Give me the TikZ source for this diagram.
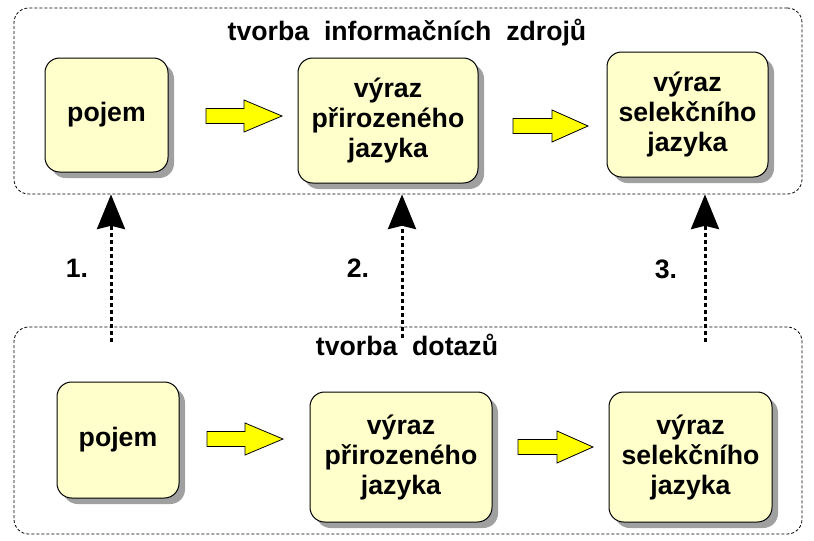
\documentclass[tikz,border=0pt]{standalone}
\usepackage{fontspec}
\setmainfont{Liberation Sans}
\usetikzlibrary{arrows.meta,shadows}
\definecolor{boxfill}{RGB}{255,255,204}
\definecolor{shadowgray}{RGB}{160,160,160}
\definecolor{arrowyellow}{RGB}{255,255,0}
\newcommand\blockarr[4]{%
  \draw[blockarrow] (#1,#4-7.5) -- (#3,#4-7.5) -- (#3,#4-16) -- (#2,#4)
    -- (#3,#4+16) -- (#3,#4+7.5) -- (#1,#4+7.5) -- cycle;}
\begin{document}
\begin{tikzpicture}[x=0.75pt,y=-0.75pt,
  every node/.style={font=\fontsize{20}{22.5}\selectfont\bfseries, text=black},
  box/.style={draw=black, line width=0.75pt, fill=boxfill, rounded corners=11pt,
    align=center, inner sep=0pt,
    drop shadow={shadow xshift=4.5pt, shadow yshift=-4.5pt, fill=shadowgray, opacity=1}},
  frame/.style={draw=black, dash pattern=on 2.25pt off 1.5pt, line width=0.6pt,
    rounded corners=11pt, inner sep=0pt},
  blockarrow/.style={draw=black, line width=0.6pt, fill=arrowyellow},
  link/.style={draw=black, line width=2.25pt, dash pattern=on 3pt off 2.25pt,
    -{Stealth[length=26pt, width=21pt, inset=2.5pt]}},
  lbl/.style={anchor=base}
]
\useasboundingbox (0,0) rectangle (814,540);
% frames
\node[frame, minimum width=591pt, minimum height=139.5pt] (top) at (408,101) {};
\node[frame, minimum width=591pt, minimum height=155.25pt] (bot) at (408,430.5) {};
\node[lbl] (t1) at (407,40) {tvorba\ \ informačních\ \ zdrojů};
\node[lbl] (t2) at (407,355) {tvorba\ \ dotazů};
% top row
\node[box, minimum width=92.25pt, minimum height=85.5pt] (a1) at (106.5,115) {pojem};
\node[box, minimum width=135pt, minimum height=93.75pt] (a2) at (388,120.5) {výraz\\přirozeného\\jazyka};
\node[box, minimum width=120.75pt, minimum height=93.75pt] (a3) at (687.5,114.5) {výraz\\selekčního\\jazyka};
% bottom row
\node[box, minimum width=91.5pt, minimum height=87pt] (b1) at (118,440) {pojem};
\node[box, minimum width=136.5pt, minimum height=97.5pt] (b2) at (401,457) {výraz\\přirozeného\\jazyka};
\node[box, minimum width=122.25pt, minimum height=97.5pt] (b3) at (690.5,457) {výraz\\selekčního\\jazyka};
% block arrows
\blockarr{206}{282}{244}{116}
\blockarr{513}{588}{552}{126}
\blockarr{207}{283}{245}{439}
\blockarr{518}{593}{557}{447}
% dashed links
\coordinate (s1) at (111,342);
\coordinate (s2) at (402,338);
\coordinate (s3) at (705,342);
\draw[link] (s1) -- (s1 |- top.south);
\draw[link] (s2) -- (s2 |- top.south);
\draw[link] (s3) -- (s3 |- top.south);
% labels
\node[lbl] (n1) at (77,277) {1.};
\node[lbl] (n2) at (358,277) {2.};
\node[lbl] (n3) at (666,278) {3.};
\end{tikzpicture}
\end{document}
